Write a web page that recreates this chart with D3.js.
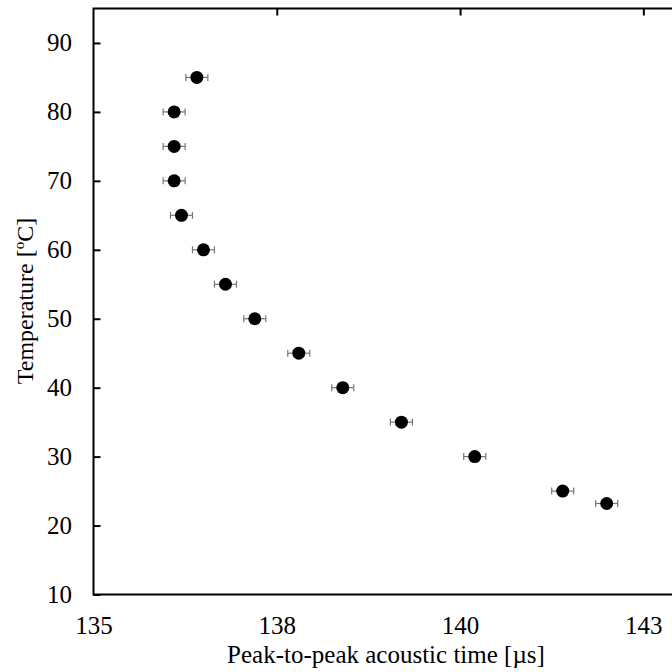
<!DOCTYPE html>
<html><head><meta charset="utf-8">
<script src="https://cdn.jsdelivr.net/npm/d3@7"></script>
<style>html,body{margin:0;padding:0;background:#fff;overflow:hidden}</style>
</head><body>
<svg id="c" width="672" height="672"></svg>
<script>
const times = [136.41, 136.10, 136.10, 136.10, 136.20, 136.50, 136.80, 137.20, 137.80, 138.40, 139.20, 140.20, 141.40, 142.00];
const temps = [85, 80, 75, 70, 65, 60, 55, 50, 45, 40, 35, 30, 25, 23.2];
const timeErr = [0.15, 0.15, 0.15, 0.15, 0.15, 0.15, 0.15, 0.15, 0.15, 0.15, 0.15, 0.15, 0.15, 0.15];
const xTicks = [135, 137.5, 140, 142.5];
const xTickLabels = ["135", "138", "140", "143"];
const yTicks = [10, 20, 30, 40, 50, 60, 70, 80, 90];
const xTitle = "Peak-to-peak acoustic time [\u00b5s]";

const font = "Liberation Serif";
const svg = d3.select("#c");
const x = d3.scaleLinear().domain([135, 143]).range([93.5, 680]);
const y = d3.scaleLinear().domain([10, 95]).range([594.5, 8.5]);

svg.append("rect").attr("x", x(135)).attr("y", y(95)).attr("width", x(143) - x(135)).attr("height", y(10) - y(95))
  .attr("fill", "none").attr("stroke", "#000").attr("stroke-width", 2);

const yAxis = d3.axisLeft(y).tickValues(yTicks).tickSize(-7).tickPadding(30).tickFormat(d3.format("d"));
const gy = svg.append("g").attr("transform", `translate(${x(135)},0)`).call(yAxis);
gy.select(".domain").remove();
gy.selectAll(".tick line").attr("stroke", "#000").attr("stroke-width", 2);
gy.selectAll(".tick text").attr("font-family", font).attr("font-size", 25).attr("fill", "#000").attr("x", 72 - x(135)).attr("dy", "0.32em");

const xAxisTop = d3.axisTop(x).tickValues(xTicks.slice(1)).tickSize(-7).tickFormat("");
const gxt = svg.append("g").attr("transform", `translate(0,${y(95)})`).call(xAxisTop);
gxt.select(".domain").remove();
gxt.selectAll(".tick line").attr("stroke", "#000").attr("stroke-width", 2);

const xAxis = d3.axisBottom(x).tickValues(xTicks).tickSize(0).tickPadding(22).tickFormat((d, i) => xTickLabels[i]);
const gx = svg.append("g").attr("transform", `translate(0,${y(10)})`).call(xAxis);
gx.select(".domain").remove();
gx.selectAll(".tick text").attr("font-family", font).attr("font-size", 25).attr("fill", "#000");

svg.append("text").attr("x", 386).attr("y", 663).attr("text-anchor", "middle")
  .attr("font-family", font).attr("font-size", 25).attr("fill", "#000").text(xTitle);
const yt = svg.append("text").attr("transform", "translate(33,301) rotate(-90)").attr("text-anchor", "middle")
  .attr("font-family", font).attr("font-size", 24).attr("fill", "#000");
yt.append("tspan").text("Temperature [");
yt.append("tspan").attr("font-size", 15).attr("dy", -9).text("o");
yt.append("tspan").attr("dy", 9).text("C]");

const data = times.map((t, i) => ({t, T: temps[i], e: timeErr[i]}));
const eb = svg.append("g").attr("stroke", "#777").attr("stroke-width", 1.2);
data.forEach(d => {
  eb.append("line").attr("x1", x(d.t - d.e)).attr("x2", x(d.t + d.e)).attr("y1", y(d.T)).attr("y2", y(d.T));
  eb.append("line").attr("x1", x(d.t - d.e)).attr("x2", x(d.t - d.e)).attr("y1", y(d.T) - 3.5).attr("y2", y(d.T) + 3.5);
  eb.append("line").attr("x1", x(d.t + d.e)).attr("x2", x(d.t + d.e)).attr("y1", y(d.T) - 3.5).attr("y2", y(d.T) + 3.5);
});
svg.append("g").selectAll("circle.pt").data(data).join("circle").attr("class", "pt")
  .attr("cx", d => x(d.t)).attr("cy", d => y(d.T)).attr("r", 6.5).attr("fill", "#000");
</script>
</body></html>
